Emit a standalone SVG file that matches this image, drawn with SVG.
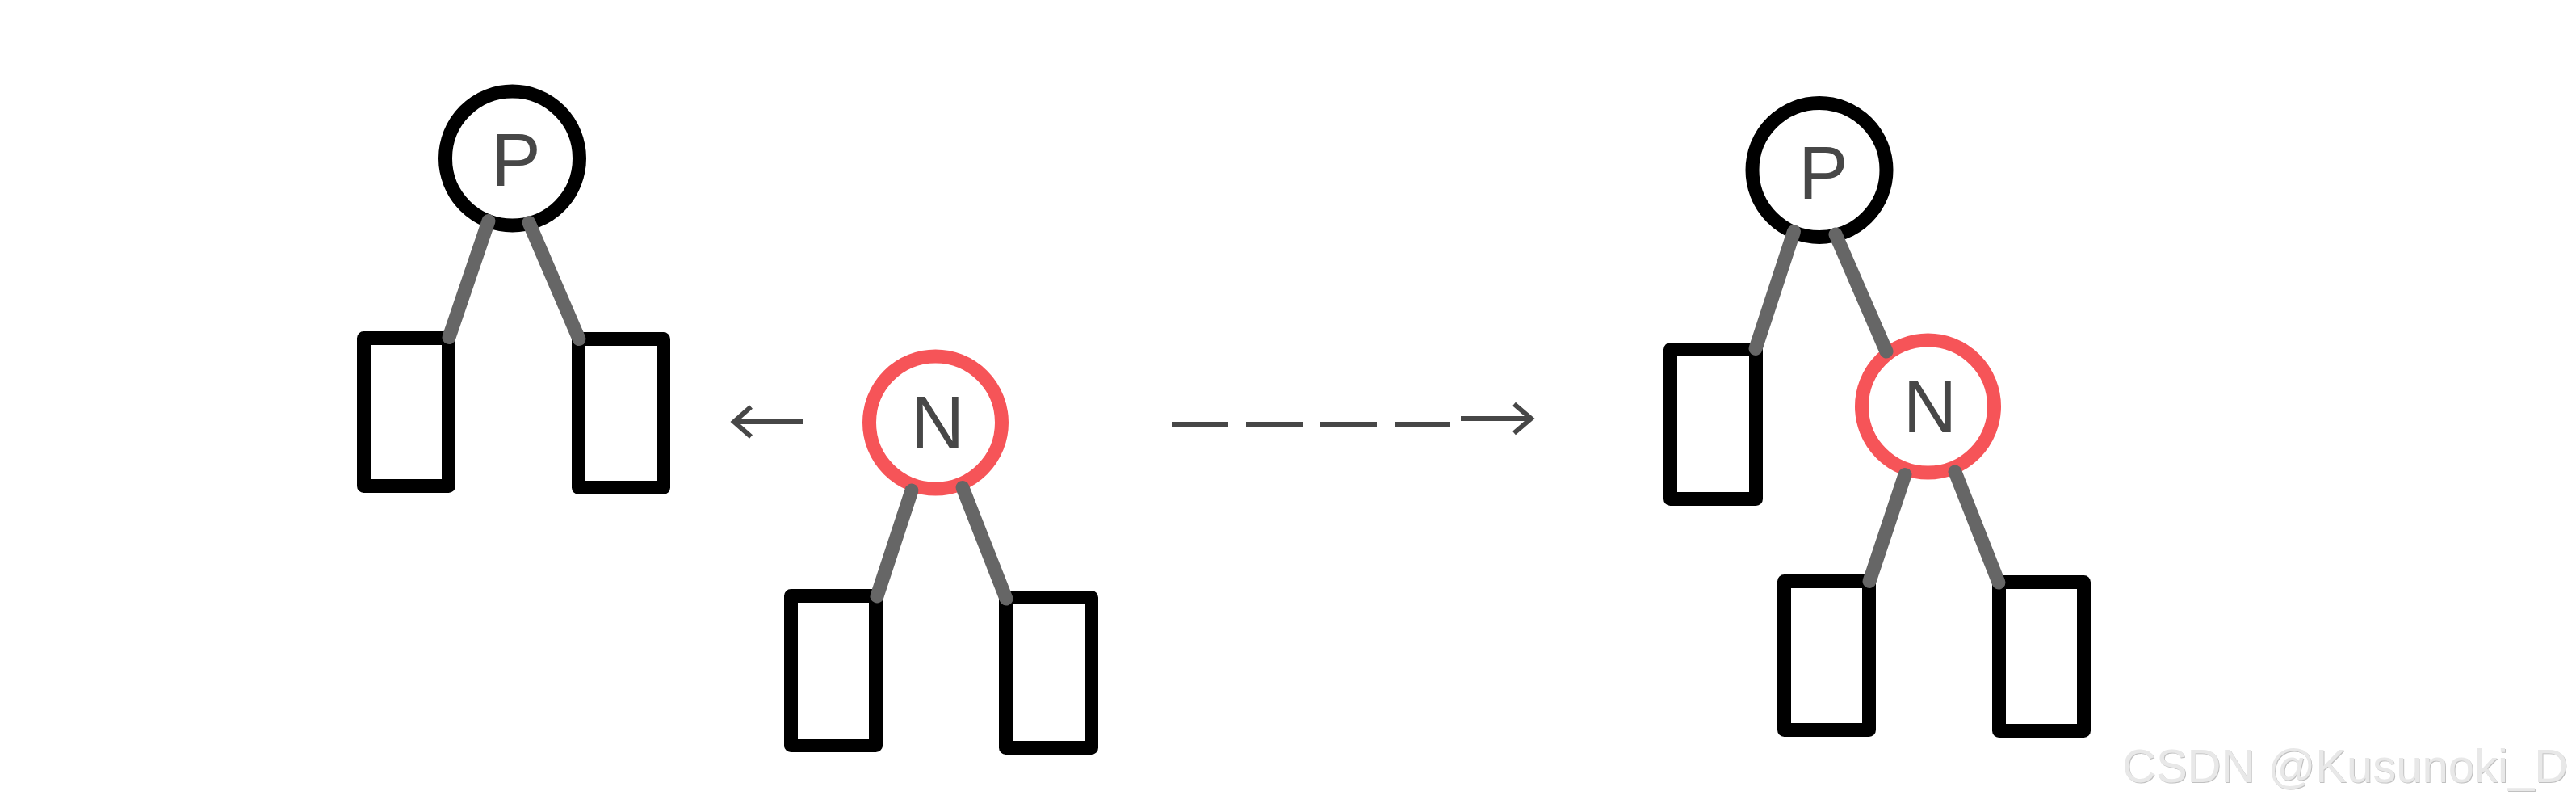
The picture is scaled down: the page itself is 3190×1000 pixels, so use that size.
<svg xmlns="http://www.w3.org/2000/svg" width="3190" height="1000" viewBox="0 0 3190 1000">
<defs>
<style>
.leaf{fill:#fff;stroke:#000;stroke-width:17;stroke-linejoin:round}
.blk{fill:#fff;stroke:#000;stroke-width:17}
.red{fill:#fff;stroke:#F65458;stroke-width:17}
.lbl{font-family:"Liberation Sans",Arial,sans-serif;font-size:92px;fill:#474747;text-anchor:middle}
.edge{stroke:#666;stroke-width:17;stroke-linecap:round;fill:none}
.arr{stroke:#474747;stroke-width:6;fill:none}
.wm{font-family:"Liberation Sans",Arial,sans-serif;font-size:58px;fill:#e8e8e8}
</style>
<filter id="emb" x="-2%" y="-10%" width="104%" height="120%">
<feDropShadow dx="1" dy="1" stdDeviation="0.6" flood-color="#b0b0b0" flood-opacity="0.8"/>
</filter>
</defs>
<rect width="3190" height="1000" fill="#fff"/>

<g id="tree1">
<g id="P1"><circle class="blk" cx="634.5" cy="196" r="83"/><text class="lbl" x="639" y="230">P</text></g>
<rect id="L1" class="leaf" x="450.5" y="418.5" width="105" height="183"/>
<rect id="R1" class="leaf" x="716.5" y="419.5" width="105" height="184"/>
</g>

<g id="tree2">
<g id="N2"><circle class="red" cx="1158.5" cy="523" r="82"/><text class="lbl" x="1161" y="555">N</text></g>
<rect id="L2" class="leaf" x="979.5" y="737.5" width="105" height="185"/>
<rect id="R2" class="leaf" x="1245.5" y="739.5" width="106" height="186"/>
</g>

<g id="tree3">
<g id="P3"><circle class="blk" cx="2253" cy="210.5" r="83"/><text class="lbl" x="2258" y="246">P</text></g>
<rect id="L3" class="leaf" x="2068.5" y="432.5" width="106" height="185"/>
<g id="N3"><circle class="red" cx="2387.5" cy="503" r="82"/><text class="lbl" x="2390" y="535">N</text></g>
<rect id="L3b" class="leaf" x="2209.5" y="719.5" width="105" height="184"/>
<rect id="R3b" class="leaf" x="2475.5" y="720.5" width="105" height="184"/>
</g>

<g id="connectors">
<line class="edge" x1="605" y1="273.5" x2="556" y2="417.5"/>
<line class="edge" x1="655" y1="275.5" x2="717" y2="419.5"/>
<line class="edge" x1="1129" y1="607" x2="1086" y2="738"/>
<line class="edge" x1="1192" y1="603.5" x2="1246" y2="741"/>
<line class="edge" x1="2221.5" y1="286.5" x2="2174" y2="431.5"/>
<line class="edge" x1="2273" y1="290" x2="2336" y2="435"/>
<line class="edge" x1="2359" y1="587.5" x2="2315" y2="719.5"/>
<line class="edge" x1="2421" y1="584" x2="2475" y2="721"/>
<g id="arrow-left">
<line class="arr" x1="909" y1="522" x2="995" y2="522"/>
<polyline class="arr" points="930,503.5 909,522 930,540.5"/>
</g>
<g id="arrow-right">
<line class="arr" x1="1451" y1="525" x2="1796" y2="525" stroke-dasharray="70 22" stroke-width="6.5"/>
<line class="arr" x1="1809" y1="518" x2="1896" y2="518" stroke-width="6.5"/>
<polyline class="arr" points="1875,500 1896,518 1875,536" stroke-width="6.5"/>
</g>
</g>

<text class="wm" x="2628" y="968" filter="url(#emb)">CSDN @Kusunoki_D</text>
</svg>
